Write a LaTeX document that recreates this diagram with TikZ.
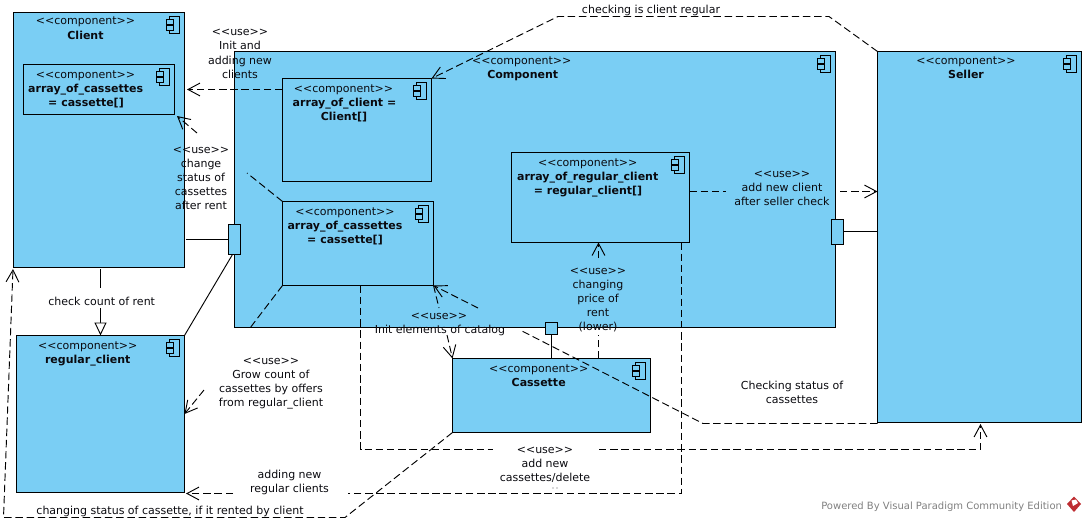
\documentclass[tikz,border=0pt]{standalone}
\usepackage{fontspec}
\setmainfont{DejaVu Sans}
\usetikzlibrary{arrows.meta,calc}
\definecolor{compblue}{RGB}{122,206,244}
\definecolor{inkblack}{RGB}{10,10,15}
\definecolor{logored}{RGB}{190,45,50}
\newcommand{\stuse}{{<}{<}use{>}{>}}
\newcommand{\stcomp}{{<}{<}component{>}{>}}
\tikzset{
  x=0.75pt,y=-0.75pt,
  compbox/.style={draw=black,fill=compblue,line width=0.75pt,anchor=north west,inner sep=0pt,outer sep=0pt},
  portbox/.style={compbox},
  conn/.style={draw=black,line width=0.7pt},
  dep/.style={conn,dash pattern=on 5.6pt off 2.8pt},
  openhead/.style={-{Straight Barb[length=9pt,width=9.6pt,line width=0.7pt]}},
  lbl/.style={font=\fontsize{8.25}{10.5}\selectfont,text=inkblack,align=center,inner sep=0pt,anchor=base,yshift=-3pt},
  title/.style={lbl,font=\fontsize{8.25}{10.5}\selectfont\bfseries},
  iconpart/.style={draw=black,line width=0.7pt,fill=compblue},
  icon/.pic={
    \draw[iconpart] (-10.5,0) rectangle (0,16.5);
    \draw[iconpart] (-13.5,3) rectangle (-6,7.5);
    \draw[iconpart] (-13.5,9) rectangle (-6,13.5);
  }
}
\newcommand{\cbox}[5]{%
  \node[compbox,minimum width=(#4-#2)*0.75pt,minimum height=(#5-#3)*0.75pt] (#1) at (#2,#3) {};
  \pic at ($(#1.north east)+(-5,4)$) {icon};
}
\newcommand{\pbox}[5]{%
  \node[portbox,minimum width=(#4-#2)*0.75pt,minimum height=(#5-#3)*0.75pt] (#1) at (#2,#3) {};
}
\begin{document}
\begin{tikzpicture}
\useasboundingbox (0,0) rectangle (1086,521);
% boxes
\cbox{client}{13.5}{12.5}{184.5}{267.5}
\cbox{clientarr}{23.5}{64.5}{174.5}{114.5}
\cbox{comp}{234.5}{51.5}{835.5}{327.5}
\cbox{arrclient}{282.5}{78.5}{431.5}{181.5}
\cbox{arrcass}{282.5}{201.5}{433.5}{285.5}
\cbox{arrreg}{511.5}{152.5}{689.5}{242.5}
\cbox{seller}{877.5}{51.5}{1081.5}{422.5}
\cbox{regular}{16.5}{335.5}{184.5}{492.5}
\cbox{cassette}{452.5}{358.5}{650.5}{432.5}
\pbox{portl}{228.5}{224.5}{240.5}{254.5}
\pbox{portr}{831.5}{219.5}{843.5}{244.5}
\pbox{portb}{545.5}{322.5}{557.5}{334.5}
% bend and gap coordinates
\coordinate (b1) at (558,16.5);
\coordinate (b2) at (829,16.5);
\coordinate (b3) at (703,423.5);
\coordinate (b4) at (360.5,449.5);
\coordinate (b5) at (980.5,449.5);
\coordinate (b6) at (681.5,493.5);
\coordinate (b7) at (345,517.5);
\coordinate (b8) at (3.5,517.5);
\coordinate (g1) at (197,133);
\coordinate (g2) at (247,173);
\coordinate (g3) at (250,328);
\coordinate (g4) at (204,390);
\coordinate (g5) at (478,308);
\coordinate (g6) at (520,330);
\coordinate (g7) at (439,308);
\coordinate (g8) at (447,335);
\coordinate (g9) at (493,449.5);
\coordinate (g10) at (599,449.5);
\coordinate (g11) at (233,493.5);
\coordinate (g12) at (348,493.5);
\coordinate (g13) at (726,191.5);
\coordinate (g14) at (840,191.5);
\coordinate (g15) at (598.5,258);
\coordinate (g16) at (598.5,335);
\coordinate (g17) at (100.5,288);
\coordinate (g18) at (100.5,308);
% solid connectors
\draw[conn] (portl.west |- 0,239.5) -- (186,239.5);
\draw[conn] (portl.south) ++(-2,0) -- (regular.north east);
\draw[conn] (portr.east |- 0,231.5) -- (seller.west |- 0,231.5);
\draw[conn] (portb.south) -- (cassette.north -| portb.south);
\draw[conn] (100.5,269) -- (g17);
\draw[conn,-{Triangle[open,length=9.75pt,width=9pt,fill=white,line width=0.7pt]}] (g18) -- (regular.north -| 100.5,0);
% dependencies
\draw[dep,openhead] (arrclient.west |- 0,89.5) -- (187,89.5);
\draw[dep,openhead] (g1) -- (177,116);
\draw[dep] (arrcass.north west) -- (g2);
\draw[dep] (arrcass.south west) -- (g3);
\draw[dep,openhead] (g4) -- (regular.east |- 0,414);
\draw[dep] (arrcass.south east) -- (g7);
\draw[dep,openhead] (g8) -- (cassette.north west);
\draw[dep,openhead] (g5) -- (arrcass.south east);
\draw[dep] (seller.west |- b3) -- (b3) -- (g6);
\draw[dep] (cassette.north -| 598.5,0) -- (g16);
\draw[dep,openhead] (g15) -- (arrreg.south -| 598.5,0);
\draw[dep] (arrreg.east |- 0,191.5) -- (g13);
\draw[dep,openhead] (g14) -- (seller.west |- 0,191.5);
\draw[dep,openhead] (seller.north west) -- (b2) -- (b1) -- (arrclient.north east);
\draw[dep] (arrcass.south -| 360.5,0) -- (b4) -- (g9);
\draw[dep,openhead] (g10) -- (b5) -- (980.5,424);
\draw[dep] (arrreg.south -| 681.5,0) -- (b6) -- (g12);
\draw[dep,openhead] (g11) -- (186,493.5);
\draw[dep,openhead] (cassette.south west) -- (b7) -- (b8) -- (13,269);
% component titles
\node[lbl] at (85.5,21) {\stcomp};
\node[title] at (85.5,35) {Client};
\node[lbl] at (85.5,74) {\stcomp};
\node[title] at (85.6,88) {array\_of\_cassettes};
\node[title] at (86,102) {= cassette[]};
\node[lbl] at (521.7,60) {\stcomp};
\node[title] at (522.7,74) {Component};
\node[lbl] at (343.5,88) {\stcomp};
\node[title] at (344.5,102) {array\_of\_client =};
\node[title] at (344,116) {Client[]};
\node[lbl] at (345,211) {\stcomp};
\node[title] at (345,225) {array\_of\_cassettes};
\node[title] at (345,239) {= cassette[]};
\node[lbl] at (587.7,162) {\stcomp};
\node[title] at (587.7,176) {array\_of\_regular\_client};
\node[title] at (588,190) {= regular\_client[]};
\node[lbl] at (966,60) {\stcomp};
\node[title] at (966,74) {Seller};
\node[lbl] at (87.7,345) {\stcomp};
\node[title] at (87.7,359) {regular\_client};
\node[lbl] at (538.7,368) {\stcomp};
\node[title] at (538.7,382) {Cassette};
% connector labels
\node[lbl] at (240,32) {\stuse};
\node[lbl] at (240,46) {Init and};
\node[lbl] at (240,60) {adding new};
\node[lbl] at (240,74) {clients};
\node[lbl] at (201,149) {\stuse};
\node[lbl] at (201,163) {change};
\node[lbl] at (201,177) {status of};
\node[lbl] at (201,191) {cassettes};
\node[lbl] at (201,205) {after rent};
\node[lbl] at (782,173) {\stuse};
\node[lbl] at (782,187) {add new client};
\node[lbl] at (782,201) {after seller check};
\node[lbl] at (598,270) {\stuse};
\node[lbl] at (598,284) {changing};
\node[lbl] at (598,298) {price of};
\node[lbl] at (598,312) {rent};
\node[lbl] at (598,326) {(lower)};
\node[lbl] at (439,315) {\stuse};
\node[lbl] at (440,329) {Init elements of catalog};
\node[lbl] at (271,360) {\stuse};
\node[lbl] at (271,374) {Grow count of};
\node[lbl] at (271,388) {cassettes by offers};
\node[lbl] at (271,402) {from regular\_client};
\node[lbl] at (101.7,301) {check count of rent};
\node[lbl] at (289.5,474) {adding new};
\node[lbl] at (289.5,488) {regular clients};
\node[lbl] at (545,449) {\stuse};
\node[lbl] at (545,463) {add new};
\node[lbl] at (545,477) {cassettes/delete};
\fill[inkblack!70] (553,488) circle (0.4pt) (557,488) circle (0.4pt);
\node[lbl] at (651,9) {checking is client regular};
\node[lbl] at (792,385) {Checking status of};
\node[lbl] at (792,399) {cassettes};
\node[lbl] at (170,510) {changing status of cassette, if it rented by client};
\node[lbl,text=gray,anchor=base west,font=\fontsize{7.5}{9}\selectfont] at (821,505) {Powered By Visual Paradigm Community Edition};
% logo
\fill[logored] (1074,496.5) -- (1081,504) -- (1074,512) -- (1067,504) -- cycle;
\fill[white] (1071.5,500.5) -- (1076,499.5) -- (1078,503) -- (1073,506) -- cycle;
\end{tikzpicture}
\end{document}
